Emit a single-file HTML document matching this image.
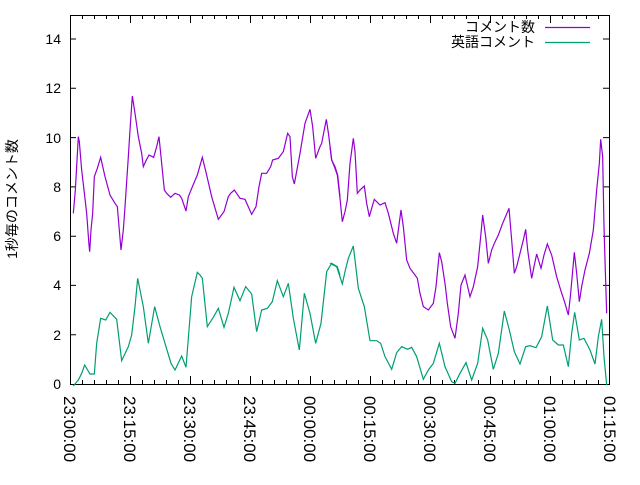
<!DOCTYPE html>
<html><head><meta charset="utf-8"><style>
body{margin:0;background:#fff}
text{font-family:"Liberation Sans","Noto Sans CJK JP",sans-serif;font-size:14px;fill:#000}
.xl{font-size:17px}
</style></head><body>
<svg width="640" height="480" viewBox="0 0 640 480" xmlns="http://www.w3.org/2000/svg">
<g stroke="#000" stroke-width="1" fill="none">
<rect x="70.5" y="15.5" width="539" height="369"/>
<path d="M70 384.5h6M70 334.7h6M70 285.4h6M70 236.2h6M70 186.9h6M70 137.6h6M70 88.3h6M70 39h6
M609 334.7h-6M609 285.4h-6M609 236.2h-6M609 186.9h-6M609 137.6h-6M609 88.3h-6M609 39h-6"/>
</g>
<g text-anchor="end">
<text x="61" y="389">0</text><text x="61" y="340">2</text><text x="61" y="290">4</text><text x="61" y="241">6</text><text x="61" y="192">8</text><text x="61" y="143">10</text><text x="61" y="93">12</text><text x="61" y="44">14</text>
</g>
<text transform="translate(17,199) rotate(-90)" text-anchor="middle">1秒毎のコメント数</text>
<g class="xl">
<text class="xl" transform="translate(64,396) rotate(90)">23:00:00</text>
<text class="xl" transform="translate(124,396) rotate(90)">23:15:00</text>
<text class="xl" transform="translate(184,396) rotate(90)">23:30:00</text>
<text class="xl" transform="translate(244,396) rotate(90)">23:45:00</text>
<text class="xl" transform="translate(304,396) rotate(90)">00:00:00</text>
<text class="xl" transform="translate(364,396) rotate(90)">00:15:00</text>
<text class="xl" transform="translate(424,396) rotate(90)">00:30:00</text>
<text class="xl" transform="translate(484,396) rotate(90)">00:45:00</text>
<text class="xl" transform="translate(544,396) rotate(90)">01:00:00</text>
<text class="xl" transform="translate(604,396) rotate(90)">01:15:00</text>
</g>
<g stroke="#000" stroke-width="1">
<path d="M70.5 384v-8M130.5 384v-8M190.5 384v-8M250.5 384v-8M310.5 384v-8M370.5 384v-8M430.5 384v-8M490.5 384v-8M550.5 384v-8
M70.5 15v8M130.5 15v8M190.5 15v8M250.5 15v8M310.5 15v8M370.5 15v8M430.5 15v8M490.5 15v8M550.5 15v8
M82.5 384v-4M94.5 384v-4M106.5 384v-4M118.5 384v-4M142.5 384v-4M154.5 384v-4M166.5 384v-4M178.5 384v-4M202.5 384v-4M214.5 384v-4M226.5 384v-4M238.5 384v-4M262.5 384v-4M274.5 384v-4M286.5 384v-4M298.5 384v-4M322.5 384v-4M334.5 384v-4M346.5 384v-4M358.5 384v-4M382.5 384v-4M394.5 384v-4M406.5 384v-4M418.5 384v-4M442.5 384v-4M454.5 384v-4M466.5 384v-4M478.5 384v-4M502.5 384v-4M514.5 384v-4M526.5 384v-4M538.5 384v-4M562.5 384v-4M574.5 384v-4M586.5 384v-4M598.5 384v-4
M82.5 15v4M94.5 15v4M106.5 15v4M118.5 15v4M142.5 15v4M154.5 15v4M166.5 15v4M178.5 15v4M202.5 15v4M214.5 15v4M226.5 15v4M238.5 15v4M262.5 15v4M274.5 15v4M286.5 15v4M298.5 15v4M322.5 15v4M334.5 15v4M346.5 15v4M358.5 15v4M382.5 15v4M394.5 15v4M406.5 15v4M418.5 15v4M442.5 15v4M454.5 15v4M466.5 15v4M478.5 15v4M502.5 15v4M514.5 15v4M526.5 15v4M538.5 15v4M562.5 15v4M574.5 15v4M586.5 15v4M598.5 15v4"/>
</g>
<g fill="none" stroke-width="1.2">
<g transform="translate(60,80) scale(0.33333)">
<polyline vector-effect="non-scaling-stroke" stroke="#9400d3" points="40,400 46,330 55,170 58,185 65,270 72,330 80,400 87,495 89,515 93,450 98,400 103,290 112,265 122,232 135,290 150,345 165,370 172,380 183,510 190,450 195,380 205,230 210,150 217,48 225,100 235,170 245,220 250,260 258,242 267,225 281,232 290,200 297,170 305,250 313,330 320,340 332,352 345,340 358,345 365,355 378,393 385,350 398,318 412,285 427,232 440,285 455,350 475,418 492,395 505,350 512,340 523,330 540,355 555,358 575,403 588,380 597,320 605,280 620,280 632,260 638,240 655,235 670,215 683,160 690,170 697,290 703,312 720,220 735,130 750,88 758,140 767,235 780,200 785,190 799,118 806,165 815,240 825,260 833,285 840,350"/>
<polyline vector-effect="non-scaling-stroke" stroke="#009e73" points="40,918 55,900 65,880 74,855 90,882 103,882 110,790 122,715 137,720 150,697 170,718 185,842 205,800 215,765 225,680 233,595 250,680 265,790 284,680 300,740 318,800 333,850 345,870 365,828 378,862 395,650 412,577 420,585 427,595 442,740 460,712 475,685 492,742 505,700 522,622 540,662 557,620 575,642 590,755 605,690 622,685 637,665 652,602 670,650 685,610 700,715 718,810 733,640 750,700 767,790 783,730 800,575 815,550 832,560 840,585"/>
</g>
<g transform="translate(330,80) scale(0.33333)">
<polyline vector-effect="non-scaling-stroke" stroke="#9400d3" points="0,200 5,240 15,265 22,285 30,355 37,425 45,395 52,360 60,250 70,175 75,215 82,340 90,330 103,318 110,370 118,410 125,385 133,358 150,375 165,368 175,400 190,460 200,490 205,450 213,390 220,440 230,540 240,565 255,585 262,595 270,640 280,680 295,690 310,670 318,620 328,518 335,545 345,610 352,670 362,740 375,775 385,700 393,615 405,585 413,620 420,650 430,620 443,560 452,470 458,405 467,470 475,550 485,510 493,490 505,465 518,430 537,385 545,480 553,580 560,560 570,520 580,480 587,448 593,510 605,595 612,560 620,522 633,565 642,525 652,492 665,525 680,590 692,630 705,670 715,705 722,640 733,517 740,580 748,665 755,620 765,570 778,520 790,450 800,330 808,250 812,178 818,230 822,440 825,540 830,700"/>
<polyline vector-effect="non-scaling-stroke" stroke="#009e73" points="0,550 20,560 37,612 45,575 55,535 70,498 85,625 103,680 120,782 140,782 152,790 165,830 185,868 200,818 215,800 233,808 245,802 260,830 280,898 295,870 310,850 328,790 345,860 365,905 375,910 390,880 408,848 425,900 443,850 458,745 473,780 490,868 505,820 523,693 538,750 553,815 570,852 587,800 600,797 618,803 635,770 652,678 668,780 685,795 700,795 715,860 725,760 734,697 748,780 762,775 780,810 795,852 805,770 815,718 822,830 830,915"/>
</g>
</g>
<g text-anchor="end">
<text x="535" y="32">コメント数</text>
<text x="535" y="47">英語コメント</text>
</g>
<path d="M545 27.5h45" stroke="#9400d3" stroke-width="1.2"/>
<path d="M545 42.5h45" stroke="#009e73" stroke-width="1.2"/>
</svg>
</body></html>
